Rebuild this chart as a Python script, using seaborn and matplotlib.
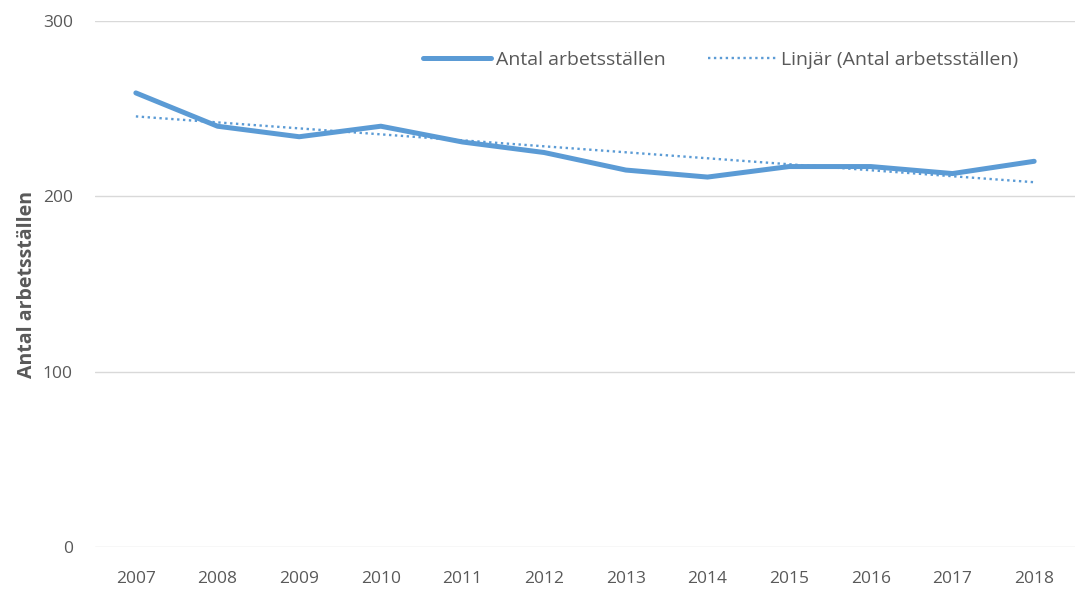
import numpy as np
import pandas as pd
import matplotlib
matplotlib.use("Agg")
import matplotlib.pyplot as plt
import seaborn as sns

years = [2007, 2008, 2009, 2010, 2011, 2012, 2013, 2014, 2015, 2016, 2017, 2018]
antal = [259, 240, 234, 240, 231, 225, 215, 211, 217, 217, 213, 220]
y_ticks = [0, 100, 200, 300]

series_label = "Antal arbetsställen"
trend_label = "Linjär (Antal arbetsställen)"

sns.set_theme(style="white")
plt.rcParams["font.family"] = ["Open Sans", "DejaVu Sans"]

blue = "#5B9BD5"
grey_text = "#595959"

df = pd.DataFrame({"year": years, "antal": antal})
coef = np.polyfit(df["year"], df["antal"], 1)
df["trend"] = np.polyval(coef, df["year"])

fig = plt.figure(figsize=(10.75, 5.89), dpi=100)
ax = fig.add_axes([0.0884, 0.0713, 0.9116, 0.893])

sns.lineplot(data=df, x="year", y="antal", ax=ax, color=blue, linewidth=3.6,
             label=series_label, solid_capstyle="round")
sns.lineplot(data=df, x="year", y="trend", ax=ax, color=blue, linewidth=1.7,
             linestyle=(0, (1, 1.5)), label=trend_label)

ax.set_xlim(2006.5, 2018.5)
ax.set_ylim(0, 300)
ax.set_yticks(y_ticks)
ax.set_xticks(years)
ax.set_xticklabels([str(y) for y in years])
ax.yaxis.grid(True, color="#D9D9D9", linewidth=1.0)
ax.xaxis.grid(False)
for s in ax.spines.values():
    s.set_visible(False)
ax.tick_params(axis="both", length=0, labelsize=12.5, colors=grey_text)
ax.tick_params(axis="y", pad=16)
ax.tick_params(axis="x", pad=17)
ax.set_xlabel("")
ax.set_ylabel(series_label, fontsize=14, fontweight="bold", color=grey_text, labelpad=4)

leg = ax.legend(loc="upper right", bbox_to_anchor=(0.96, 0.977), ncol=2, frameon=False,
                fontsize=14, handlelength=3.5, handletextpad=0.25, columnspacing=2.2,
                labelcolor=grey_text)

fig.savefig("out.png", dpi=100)
